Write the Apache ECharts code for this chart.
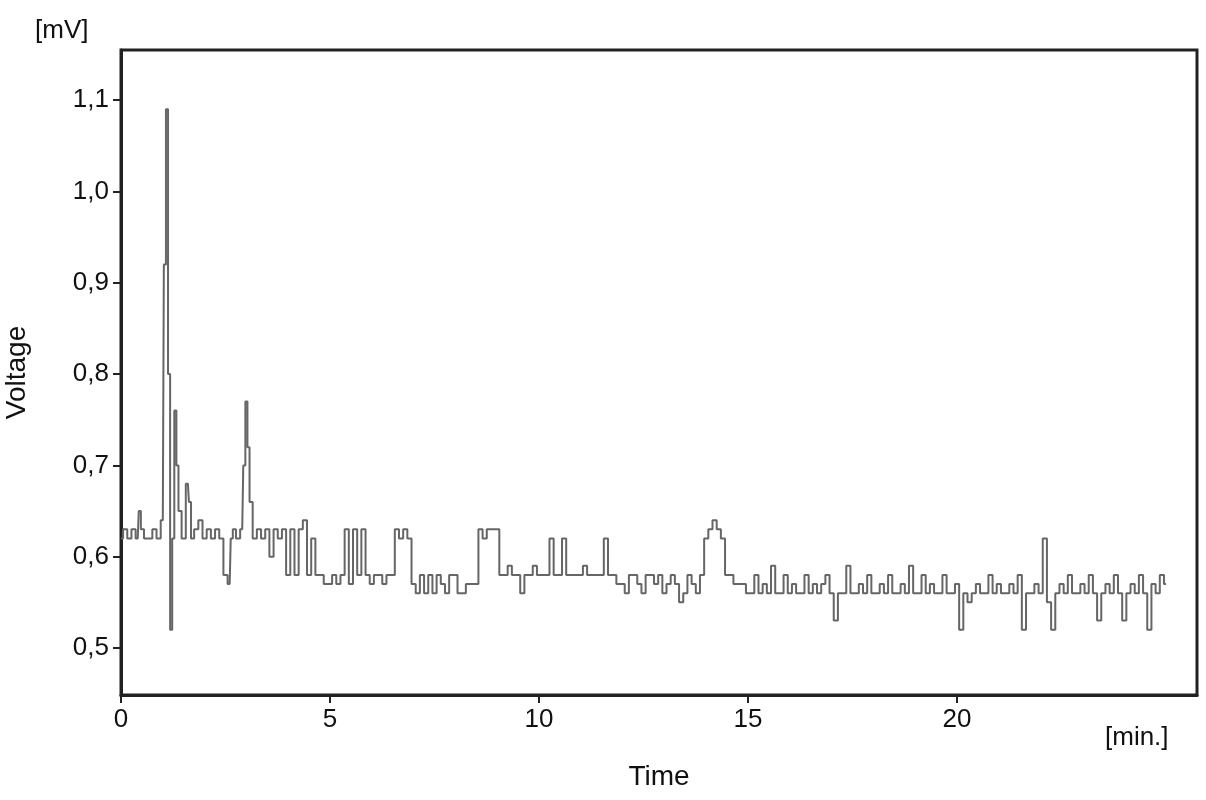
<!DOCTYPE html>
<html><head><meta charset="utf-8">
<script src="https://cdn.jsdelivr.net/npm/echarts@6/dist/echarts.min.js"></script>
<style>html,body{margin:0;background:#fff}#c{width:1206px;height:800px}</style>
</head><body><div id="c"></div>
<script>
const times = [0,0.1,0.2,0.3,0.4,0.45,0.5,0.6,0.7,0.8,0.9,1.0,1.05,1.1,1.15,1.2,1.25,1.3,1.35,1.4,1.5,1.6,1.65,1.7,1.8,1.9,2.0,2.1,2.2,2.3,2.4,2.5,2.6,2.65,2.7,2.8,2.9,2.95,3.0,3.05,3.1,3.2,3.3,3.4,3.5,3.6,3.7,3.8,3.9,4.0,4.1,4.2,4.3,4.4,4.5,4.6,4.7,4.8,4.9,5.0,5.1,5.2,5.3,5.4,5.5,5.6,5.7,5.8,5.9,6.0,6.1,6.2,6.3,6.4,6.5,6.6,6.7,6.8,6.9,7.0,7.1,7.2,7.3,7.4,7.5,7.6,7.7,7.8,7.9,8.0,8.1,8.2,8.3,8.4,8.5,8.6,8.7,8.8,8.9,9.0,9.1,9.2,9.3,9.4,9.5,9.6,9.7,9.8,9.9,10.0,10.1,10.2,10.3,10.4,10.5,10.6,10.7,10.8,10.9,11.0,11.1,11.2,11.3,11.4,11.5,11.6,11.7,11.8,11.9,12.0,12.1,12.2,12.3,12.4,12.5,12.6,12.7,12.8,12.9,13.0,13.1,13.2,13.3,13.4,13.5,13.6,13.7,13.8,13.9,14.0,14.1,14.2,14.3,14.4,14.5,14.6,14.7,14.8,14.9,15.0,15.1,15.2,15.3,15.4,15.5,15.6,15.7,15.8,15.9,16.0,16.1,16.2,16.3,16.4,16.5,16.6,16.7,16.8,16.9,17.0,17.1,17.2,17.3,17.4,17.5,17.6,17.7,17.8,17.9,18.0,18.1,18.2,18.3,18.4,18.5,18.6,18.7,18.8,18.9,19.0,19.1,19.2,19.3,19.4,19.5,19.6,19.7,19.8,19.9,20.0,20.1,20.2,20.3,20.4,20.5,20.6,20.7,20.8,20.9,21.0,21.1,21.2,21.3,21.4,21.5,21.6,21.7,21.8,21.9,22.0,22.1,22.2,22.3,22.4,22.5,22.6,22.7,22.8,22.9,23.0,23.1,23.2,23.3,23.4,23.5,23.6,23.7,23.8,23.9,24.0,24.1,24.2,24.3,24.4,24.5,24.6,24.7,24.8,24.9,25.0];
const voltage = [0.62,0.63,0.62,0.63,0.62,0.65,0.63,0.62,0.62,0.63,0.62,0.64,0.92,1.09,0.80,0.52,0.62,0.76,0.70,0.65,0.62,0.68,0.66,0.62,0.63,0.64,0.62,0.63,0.62,0.63,0.62,0.58,0.57,0.62,0.63,0.62,0.63,0.70,0.77,0.72,0.66,0.62,0.63,0.62,0.63,0.60,0.63,0.62,0.63,0.58,0.63,0.58,0.63,0.64,0.58,0.62,0.58,0.58,0.57,0.57,0.58,0.57,0.58,0.63,0.57,0.63,0.58,0.63,0.58,0.57,0.58,0.58,0.57,0.58,0.58,0.63,0.62,0.63,0.62,0.57,0.56,0.58,0.56,0.58,0.56,0.58,0.57,0.56,0.58,0.58,0.56,0.56,0.57,0.57,0.57,0.63,0.62,0.63,0.63,0.63,0.58,0.58,0.59,0.58,0.58,0.56,0.58,0.58,0.59,0.58,0.58,0.58,0.62,0.58,0.58,0.62,0.58,0.58,0.58,0.58,0.59,0.58,0.58,0.58,0.58,0.62,0.58,0.58,0.57,0.57,0.56,0.58,0.58,0.57,0.56,0.58,0.58,0.57,0.58,0.56,0.57,0.58,0.57,0.55,0.56,0.58,0.57,0.56,0.58,0.62,0.63,0.64,0.63,0.62,0.58,0.58,0.57,0.57,0.57,0.56,0.56,0.58,0.56,0.57,0.56,0.59,0.56,0.56,0.58,0.56,0.57,0.56,0.56,0.58,0.56,0.57,0.56,0.57,0.58,0.56,0.53,0.56,0.56,0.59,0.56,0.56,0.57,0.56,0.58,0.56,0.56,0.57,0.56,0.58,0.56,0.56,0.57,0.56,0.59,0.56,0.56,0.58,0.56,0.57,0.56,0.56,0.58,0.56,0.56,0.57,0.52,0.56,0.55,0.56,0.57,0.56,0.56,0.58,0.56,0.57,0.56,0.56,0.57,0.56,0.58,0.52,0.56,0.56,0.57,0.56,0.62,0.55,0.52,0.56,0.57,0.56,0.58,0.56,0.56,0.57,0.56,0.58,0.56,0.53,0.56,0.57,0.56,0.58,0.56,0.53,0.56,0.57,0.56,0.58,0.56,0.52,0.57,0.56,0.58,0.57];
const xTicks = [0,5,10,15,20];
const yTicks = [0.5,0.6,0.7,0.8,0.9,1.0,1.1];
const data = times.map((t,i)=>[t,voltage[i]]).filter(d=>d[1]!==undefined);
const chart = echarts.init(document.getElementById('c'));
const font = 'Liberation Sans, Arial, sans-serif';
chart.setOption({
  animation:false,
  grid:{left:121,right:9,top:50,bottom:105,containLabel:false,outerBoundsMode:'none'},
  xAxis:{type:'value',min:0,max:25.74,
    axisLine:{lineStyle:{color:'#222',width:3}},
    axisTick:{customValues:xTicks,length:8,lineStyle:{color:'#222',width:2}},
    axisLabel:{customValues:xTicks,color:'#111',fontSize:26,fontFamily:font,margin:12},
    splitLine:{show:false},
    name:'Time',nameLocation:'middle',nameGap:68,nameTextStyle:{color:'#111',fontSize:28,fontFamily:font}},
  yAxis:{type:'value',min:0.4485,max:1.155,
    axisLine:{show:true,lineStyle:{color:'#222',width:3}},
    axisTick:{show:true,customValues:yTicks,length:8,lineStyle:{color:'#222',width:2}},
    axisLabel:{customValues:yTicks,color:'#111',fontSize:26,fontFamily:font,margin:12,formatter:v=>v.toFixed(1).replace('.',',')},
    splitLine:{show:false},
    name:'Voltage',nameLocation:'middle',nameGap:90,nameTextStyle:{color:'#111',fontSize:28,fontFamily:font}},
  graphic:[
    {type:'rect',shape:{x:121,y:50,width:1076,height:645},style:{fill:'none',stroke:'#222',lineWidth:3}},
    {type:'text',left:35,top:18,style:{text:'[mV]',fontSize:26,fontFamily:font,fill:'#111'}},
    {type:'text',left:1105,top:725,style:{text:'[min.]',fontSize:26,fontFamily:font,fill:'#111'}}
  ],
  series:[{type:'line',data:data,symbol:'none',step:'middle',lineStyle:{color:'#666',width:2}}]
});
</script></body></html>
